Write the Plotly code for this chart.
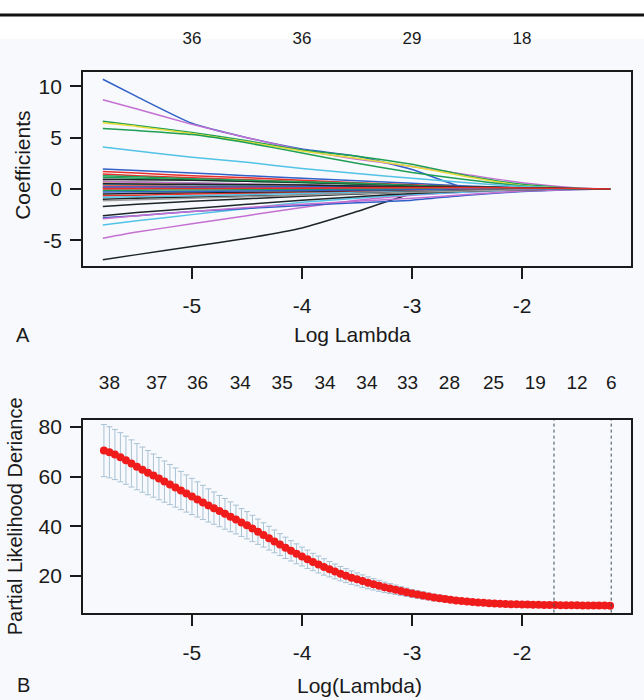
import plotly.graph_objects as go

# ---------------------------- PANEL A DATA ---------------------------- #
loglam_path = [-5.81, -5.5, -5.0, -4.5, -4.0, -3.5, -3.0, -2.5, -2.0, -1.5, -1.2]

coef_paths = [
    [10.7, 9.0, 6.4, 5.0, 3.9, 3.2, 1.9, 0.05, 0.0, 0.0, 0.0],
    [8.7, 7.8, 6.3, 5.0, 3.8, 2.9, 2.2, 1.4, 0.6, 0.1, 0.0],
    [6.6, 6.2, 5.5, 4.7, 3.8, 3.2, 2.4, 1.3, 0.45, 0.05, 0.0],
    [6.45, 6.1, 5.4, 4.6, 3.7, 3.0, 2.2, 1.2, 0.35, 0.05, 0.0],
    [5.9, 5.7, 5.3, 4.5, 3.5, 2.5, 1.6, 0.9, 0.3, 0.0, 0.0],
    [4.1, 3.7, 3.1, 2.6, 2.0, 1.5, 1.05, 0.6, 0.25, 0.05, 0.0],
    [-6.9, -6.4, -5.6, -4.8, -3.8, -2.2, -0.5, -0.15, 0.0, 0.0, 0.0],
    [-4.8, -4.2, -3.4, -2.6, -1.8, -1.1, -0.6, -0.3, -0.1, 0.0, 0.0],
    [-3.5, -3.1, -2.5, -1.9, -1.3, -0.9, -0.55, -0.3, -0.1, 0.0, 0.0],
    [-2.8, -2.6, -2.2, -1.9, -1.6, -1.35, -1.1, -0.6, -0.25, -0.05, 0.0],
    [-2.9, -2.6, -2.2, -1.8, -1.5, -1.2, -0.9, -0.55, -0.2, -0.05, 0.0],
    [-2.6, -2.3, -1.9, -1.5, -1.1, -0.75, -0.45, -0.2, -0.05, 0.0, 0.0],
    [-1.7, -1.5, -1.2, -0.95, -0.7, -0.5, -0.3, -0.15, -0.05, 0.0, 0.0],
    [1.95, 1.8, 1.55, 1.3, 1.05, 0.8, 0.55, 0.3, 0.1, 0.0, 0.0],
    [1.7, 1.55, 1.3, 1.1, 0.85, 0.6, 0.4, 0.2, 0.08, 0.02, 0.0],
    [1.45, 1.3, 1.1, 0.9, 0.7, 0.5, 0.35, 0.2, 0.08, 0.0, 0.0],
    [1.15, 1.05, 0.9, 0.75, 0.6, 0.45, 0.3, 0.15, 0.05, 0.0, 0.0],
    [0.95, 0.9, 0.85, 0.75, 0.65, 0.5, 0.35, 0.2, 0.1, 0.02, 0.0],
    [0.8, 0.7, 0.6, 0.5, 0.4, 0.3, 0.2, 0.1, 0.03, 0.0, 0.0],
    [0.6, 0.55, 0.5, 0.4, 0.3, 0.2, 0.15, 0.08, 0.02, 0.0, 0.0],
    [0.45, 0.4, 0.35, 0.3, 0.25, 0.2, 0.12, 0.05, 0.0, 0.0, 0.0],
    [0.3, 0.28, 0.25, 0.22, 0.2, 0.18, 0.15, 0.1, 0.05, 0.02, 0.0],
    [0.15, 0.15, 0.12, 0.1, 0.1, 0.08, 0.05, 0.02, 0.0, 0.0, 0.0],
    [0.0, 0.02, 0.05, 0.05, 0.08, 0.1, 0.1, 0.05, 0.02, 0.0, 0.0],
    [-0.15, -0.12, -0.1, -0.08, -0.05, -0.03, -0.02, 0.0, 0.0, 0.0, 0.0],
    [-0.3, -0.28, -0.25, -0.2, -0.15, -0.12, -0.08, -0.05, -0.02, 0.0, 0.0],
    [-0.5, -0.45, -0.4, -0.35, -0.3, -0.25, -0.2, -0.12, -0.05, 0.0, 0.0],
    [-0.65, -0.6, -0.5, -0.45, -0.38, -0.3, -0.22, -0.12, -0.05, 0.0, 0.0],
    [-0.8, -0.75, -0.65, -0.55, -0.45, -0.35, -0.25, -0.15, -0.06, 0.0, 0.0],
    [-1.0, -0.9, -0.8, -0.7, -0.6, -0.45, -0.3, -0.18, -0.06, 0.0, 0.0],
    [-1.15, -1.05, -0.9, -0.75, -0.6, -0.45, -0.32, -0.2, -0.08, 0.0, 0.0],
    [0.7, 0.65, 0.55, 0.45, 0.38, 0.3, 0.2, 0.1, 0.03, 0.0, 0.0],
    [0.2, 0.2, 0.18, 0.2, 0.22, 0.25, 0.2, 0.12, 0.05, 0.0, 0.0],
    [1.3, 1.2, 1.0, 0.85, 0.7, 0.55, 0.35, 0.2, 0.08, 0.02, 0.0],
    [0.5, 0.48, 0.45, 0.42, 0.38, 0.3, 0.25, 0.2, 0.12, 0.05, 0.0],
    [0.05, 0.05, 0.05, 0.06, 0.08, 0.12, 0.15, 0.15, 0.1, 0.04, 0.0],
]
path_colors = ['blue', 'magenta', 'green', 'yellow', 'green', 'cyan', 'black', 'magenta',
               'cyan', 'blue', 'magenta', 'black', 'black', 'blue', 'red', 'red',
               'green', 'black', 'gray', 'yellow', 'cyan', 'red', 'magenta', 'red',
               'green', 'blue', 'black', 'red', 'cyan', 'black', 'gray', 'magenta',
               'blue', 'green', 'black', 'red']

df_ticks_a = [-5, -4, -3, -2]
df_labels_a = ['36', '36', '29', '18']

# ---------------------------- PANEL B DATA ---------------------------- #
loglam_cv = [-5.80, -5.75, -5.70, -5.65, -5.60, -5.55, -5.50, -5.45, -5.40, -5.35,
             -5.30, -5.25, -5.20, -5.15, -5.10, -5.05, -5.00, -4.95, -4.90, -4.85,
             -4.80, -4.75, -4.70, -4.65, -4.60, -4.55, -4.50, -4.45, -4.40, -4.35,
             -4.30, -4.25, -4.20, -4.15, -4.10, -4.05, -4.00, -3.95, -3.90, -3.85,
             -3.80, -3.75, -3.70, -3.65, -3.60, -3.55, -3.50, -3.45, -3.40, -3.35,
             -3.30, -3.25, -3.20, -3.15, -3.10, -3.05, -3.00, -2.95, -2.90, -2.85,
             -2.80, -2.75, -2.70, -2.65, -2.60, -2.55, -2.50, -2.45, -2.40, -2.35,
             -2.30, -2.25, -2.20, -2.15, -2.10, -2.05, -2.00, -1.95, -1.90, -1.85,
             -1.80, -1.75, -1.70, -1.65, -1.60, -1.55, -1.50, -1.45, -1.40, -1.35,
             -1.30, -1.25, -1.20]
cv_mean = [70.5, 69.8, 68.9, 67.8, 66.6, 65.3, 64.0, 62.8, 61.6, 60.4,
           59.2, 58.0, 56.8, 55.6, 54.4, 53.2, 52.0, 50.8, 49.6, 48.4,
           47.3, 46.1, 45.0, 43.8, 42.7, 41.5, 40.4, 39.1, 37.8, 36.5,
           35.2, 33.9, 32.6, 31.3, 30.1, 28.9, 27.8, 26.7, 25.6, 24.6,
           23.6, 22.7, 21.8, 20.9, 20.1, 19.3, 18.6, 17.9, 17.2, 16.6,
           16.0, 15.4, 14.9, 14.4, 13.9, 13.4, 12.9, 12.5, 12.1, 11.7,
           11.3, 11.0, 10.7, 10.4, 10.1, 9.9, 9.7, 9.5, 9.3, 9.2,
           9.0, 8.9, 8.8, 8.7, 8.6, 8.55, 8.5, 8.45, 8.4, 8.35,
           8.3, 8.3, 8.25, 8.2, 8.2, 8.15, 8.15, 8.1, 8.1, 8.1,
           8.05, 8.05, 8.0]
cv_se = [10.5, 10.3, 10.1, 9.9, 9.7, 9.5, 9.3, 9.1, 8.9, 8.7,
         8.5, 8.3, 8.1, 7.9, 7.7, 7.5, 7.3, 7.1, 6.9, 6.7,
         6.5, 6.3, 6.2, 6.0, 5.8, 5.6, 5.5, 5.3, 5.1, 4.9,
         4.8, 4.6, 4.4, 4.3, 4.1, 4.0, 3.8, 3.7, 3.5, 3.4,
         3.3, 3.1, 3.0, 2.9, 2.8, 2.7, 2.6, 2.5, 2.4, 2.3,
         2.2, 2.1, 2.0, 1.9, 1.8, 1.7, 1.6, 1.55, 1.5, 1.4,
         1.35, 1.3, 1.2, 1.15, 1.1, 1.0, 0.95, 0.9, 0.85, 0.8,
         0.8, 0.75, 0.7, 0.7, 0.65, 0.65, 0.6, 0.6, 0.6, 0.55,
         0.55, 0.55, 0.55, 0.5, 0.5, 0.5, 0.5, 0.5, 0.5, 0.5,
         0.5, 0.5, 0.5]
lambda_min = -1.71
lambda_1se = -1.19

nzero_pos = [-5.75, -5.32, -4.95, -4.56, -4.18, -3.79, -3.41, -3.04, -2.66, -2.26, -1.88, -1.50, -1.19]
nzero_lab = ['38', '37', '36', '34', '35', '34', '34', '33', '28', '25', '19', '12', '6']

x_ticks = [-5, -4, -3, -2]
x_ticktext = ['-5', '-4', '-3', '-2']

# ------------------------------ STYLE --------------------------------- #
R_COLS = {'black': '#1d2528', 'red': '#e8302c', 'green': '#1f9e55', 'blue': '#3060c8',
          'cyan': '#52c2e6', 'magenta': '#c470d2', 'yellow': '#e4dc3a', 'gray': '#9c9c9c'}
INK = '#1a1a1a'
FONT = 'Liberation Sans, Arial, sans-serif'
W, H = 644, 700


def px_x(p):
    return p / W


def px_y(p):
    return 1 - p / H


fig = go.Figure()

for vals, col in zip(coef_paths, path_colors):
    fig.add_trace(go.Scatter(x=loglam_path, y=vals, mode='lines',
                             line=dict(color=R_COLS[col], width=1.5, shape='spline', smoothing=0.5),
                             xaxis='x', yaxis='y', showlegend=False, hoverinfo='skip'))

fig.add_trace(go.Scatter(x=loglam_cv, y=cv_mean, mode='markers',
                         marker=dict(color='#f01c1c', size=8, line=dict(width=0)),
                         error_y=dict(type='data', array=cv_se, visible=True,
                                      color='#a8c2d4', thickness=1, width=3),
                         xaxis='x2', yaxis='y2', showlegend=False))

# invisible traces so the top axes get drawn
fig.add_trace(go.Scatter(x=[-5], y=[0], mode='markers', marker=dict(opacity=0),
                         xaxis='x3', yaxis='y', showlegend=False, hoverinfo='skip'))
fig.add_trace(go.Scatter(x=[-5], y=[50], mode='markers', marker=dict(opacity=0),
                         xaxis='x4', yaxis='y2', showlegend=False, hoverinfo='skip'))

xdom = [px_x(83), px_x(631)]
xrange_ = [-5.99, -1.01]

box = dict(showline=True, linecolor=INK, linewidth=1.8, mirror=True,
           showgrid=False, zeroline=False, ticks='outside', ticklen=11,
           tickwidth=1.5, tickcolor=INK, tickfont=dict(size=21, color=INK))

fig.update_layout(
    width=W, height=H,
    margin=dict(l=0, r=0, t=0, b=0),
    paper_bgcolor='#ffffff',
    plot_bgcolor='#fdfdff',
    font=dict(family=FONT, color=INK),
    xaxis=dict(domain=xdom, range=xrange_, anchor='y', tickvals=x_ticks,
               ticktext=x_ticktext, ticklabelstandoff=9, **box),
    yaxis=dict(domain=[px_y(263), px_y(67)], range=[-7.52, 11.45], anchor='x',
               tickvals=[-5, 0, 5, 10], ticktext=['-5', '0', '5', '10'],
               ticklabelstandoff=4, **box),
    xaxis2=dict(domain=xdom, range=xrange_, anchor='y2', tickvals=x_ticks,
                ticktext=x_ticktext, ticklabelstandoff=9, **box),
    yaxis2=dict(domain=[px_y(612), px_y(418)], range=[5.2, 82.8], anchor='x2',
                tickvals=[20, 40, 60, 80], ticktext=['20', '40', '60', '80'],
                ticklabelstandoff=4, **box),
    xaxis3=dict(overlaying='x', side='top', anchor='y', range=xrange_,
                tickvals=df_ticks_a, ticktext=df_labels_a, ticks='',
                showline=False, showgrid=False, zeroline=False,
                ticklabelstandoff=23, tickfont=dict(size=17, color=INK)),
    xaxis4=dict(overlaying='x2', side='top', anchor='y2', range=xrange_,
                tickvals=nzero_pos, ticktext=nzero_lab, ticks='',
                showline=False, showgrid=False, zeroline=False,
                ticklabelstandoff=26, tickfont=dict(size=19, color=INK)),
)

shapes = [
    dict(type='rect', xref='paper', yref='paper', x0=0, x1=1, y0=0, y1=px_y(34),
         fillcolor='#f7f9fc', line=dict(width=0), layer='below'),
    dict(type='line', xref='paper', yref='paper', x0=0, x1=1, y0=px_y(10), y1=px_y(10),
         line=dict(color='#111111', width=3)),
]
for lx in [lambda_min, lambda_1se]:
    shapes.append(dict(type='line', xref='x2', yref='y2 domain', x0=lx, x1=lx, y0=0, y1=1,
                       line=dict(color='#3a4a5a', width=1, dash='dot')))
fig.update_layout(shapes=shapes)

annots = [
    dict(text='Log Lambda', x=px_x(352), y=px_y(332), size=21, angle=0),
    dict(text='Log(Lambda)', x=px_x(360), y=px_y(685), size=21, angle=0),
    dict(text='A', x=px_x(23), y=px_y(332), size=20, angle=0),
    dict(text='B', x=px_x(23), y=px_y(685), size=20, angle=0),
    dict(text='Coefficients', x=px_x(23), y=px_y(162), size=21, angle=-90),
    dict(text='Partial Likelihood Deriance', x=px_x(15), y=px_y(515), size=20, angle=-90),
]
for a in annots:
    fig.add_annotation(text=a['text'], x=a['x'], y=a['y'], xref='paper', yref='paper',
                       xanchor='center', yanchor='middle', showarrow=False,
                       textangle=a['angle'], font=dict(size=a['size'], color=INK))

# the page body has an 8px default margin; drop it so the figure fills the window
fig.write_html("out.html", config={'displayModeBar': False},
               post_script="document.body.style.margin='0px';")
